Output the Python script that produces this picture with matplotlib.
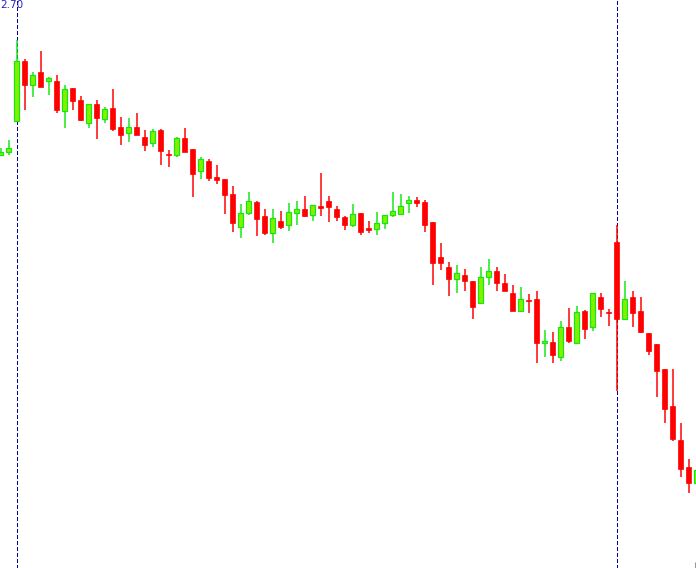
import matplotlib
matplotlib.use("Agg")
import matplotlib.pyplot as plt
from matplotlib.patches import Rectangle

# OHLC values
opens = [2.565, 2.568, 2.599, 2.659, 2.635, 2.648, 2.639, 2.639, 2.609, 2.632,
         2.620, 2.597, 2.616, 2.601, 2.612, 2.593, 2.587, 2.593, 2.583, 2.577,
         2.590, 2.566, 2.565, 2.582, 2.571, 2.549, 2.559, 2.543, 2.541, 2.526,
         2.493, 2.507, 2.518, 2.504, 2.487, 2.499, 2.495, 2.507, 2.511, 2.505,
         2.514, 2.519, 2.511, 2.503, 2.495, 2.507, 2.491, 2.491, 2.497, 2.505,
         2.506, 2.517, 2.520, 2.518, 2.498, 2.463, 2.453, 2.441, 2.445, 2.439,
         2.417, 2.443, 2.449, 2.437, 2.427, 2.409, 2.420, 2.421, 2.377, 2.378,
         2.363, 2.393, 2.377, 2.409, 2.393, 2.423, 2.408, 2.478, 2.401, 2.423,
         2.409, 2.387, 2.376, 2.351, 2.314, 2.280, 2.253, 2.237]
highs = [2.572, 2.580, 2.680, 2.661, 2.648, 2.669, 2.643, 2.645, 2.635, 2.632,
         2.624, 2.616, 2.620, 2.613, 2.631, 2.603, 2.602, 2.607, 2.590, 2.591,
         2.591, 2.570, 2.583, 2.592, 2.571, 2.563, 2.561, 2.555, 2.541, 2.534,
         2.516, 2.528, 2.519, 2.511, 2.511, 2.509, 2.517, 2.519, 2.524, 2.515,
         2.547, 2.524, 2.514, 2.504, 2.516, 2.507, 2.499, 2.508, 2.505, 2.528,
         2.526, 2.524, 2.523, 2.520, 2.498, 2.477, 2.458, 2.455, 2.451, 2.439,
         2.453, 2.461, 2.453, 2.446, 2.435, 2.433, 2.426, 2.429, 2.390, 2.388,
         2.399, 2.412, 2.414, 2.410, 2.427, 2.427, 2.411, 2.495, 2.439, 2.429,
         2.423, 2.387, 2.376, 2.351, 2.351, 2.297, 2.261, 2.250]
lows = [2.564, 2.565, 2.599, 2.610, 2.623, 2.633, 2.625, 2.607, 2.592, 2.610,
        2.599, 2.592, 2.581, 2.597, 2.589, 2.575, 2.578, 2.585, 2.569, 2.573,
        2.555, 2.553, 2.563, 2.568, 2.523, 2.541, 2.539, 2.536, 2.506, 2.488,
        2.482, 2.505, 2.484, 2.485, 2.477, 2.491, 2.489, 2.495, 2.503, 2.499,
        2.504, 2.498, 2.499, 2.490, 2.493, 2.485, 2.487, 2.485, 2.491, 2.503,
        2.506, 2.507, 2.513, 2.488, 2.435, 2.450, 2.424, 2.427, 2.429, 2.401,
        2.417, 2.435, 2.429, 2.429, 2.409, 2.409, 2.407, 2.357, 2.363, 2.357,
        2.359, 2.377, 2.377, 2.381, 2.389, 2.403, 2.394, 2.329, 2.401, 2.393,
        2.387, 2.365, 2.323, 2.297, 2.279, 2.243, 2.227, 2.237]
closes = [2.568, 2.572, 2.659, 2.635, 2.645, 2.633, 2.642, 2.610, 2.631, 2.619,
          2.600, 2.616, 2.602, 2.611, 2.591, 2.585, 2.593, 2.585, 2.575, 2.589,
          2.569, 2.565, 2.582, 2.568, 2.546, 2.561, 2.542, 2.540, 2.525, 2.497,
          2.507, 2.519, 2.501, 2.487, 2.502, 2.493, 2.508, 2.511, 2.504, 2.515,
          2.512, 2.513, 2.503, 2.495, 2.506, 2.488, 2.490, 2.497, 2.505, 2.509,
          2.514, 2.520, 2.517, 2.495, 2.457, 2.457, 2.441, 2.447, 2.439, 2.413,
          2.443, 2.449, 2.437, 2.429, 2.409, 2.421, 2.419, 2.377, 2.379, 2.365,
          2.393, 2.379, 2.408, 2.391, 2.427, 2.411, 2.407, 2.401, 2.421, 2.407,
          2.388, 2.369, 2.349, 2.311, 2.281, 2.251, 2.237, 2.250]
separators = [2, 77]   # bar indices of the dashed period separators
top_label = "2.70"

UP_FILL = "#84f000"
UP_EDGE = "#14e614"
DOWN = "#ff0000"
SEP = "#0000a0"

fig = plt.figure(figsize=(6.96, 5.68), dpi=100)
ax = fig.add_axes([0, 0, 1, 1])
ax.set_facecolor("white")

px = 1.0 / 8.0            # one pixel in bar units
body_w = 5 * px
wick_lw = 1.5 * 72 / 100

for sx in separators:
    ax.axvline(sx, color=SEP, lw=1.3 * 72 / 100, ls=(0, (3.0, 2.0)),
               antialiased=False, zorder=1)

for i, (o, h, l, c) in enumerate(zip(opens, highs, lows, closes)):
    up = c >= o
    wick_col = UP_EDGE if up else DOWN
    ax.plot([i, i], [l, h], color=wick_col, lw=wick_lw, solid_capstyle="butt", zorder=2)
    lo, hi = min(o, c), max(o, c)
    hgt = max(hi - lo, 0.0015)
    if up:
        rect = Rectangle((i - body_w / 2, lo), body_w, hgt, facecolor=UP_FILL,
                         edgecolor=UP_EDGE, lw=1.2 * 72 / 100, zorder=3)
    else:
        rect = Rectangle((i - body_w / 2, lo), body_w, hgt, facecolor=DOWN,
                         edgecolor=DOWN, lw=0.5, zorder=3)
    ax.add_patch(rect)

ax.set_xlim(-0.5 * px, (696 - 0.5) * px)
ax.set_ylim(2.152, 2.720)

for s in ax.spines.values():
    s.set_visible(False)
ax.set_yticks([])
ax.set_xticks([695 * px - 0.5 * px])
ax.set_xticklabels([])
ax.tick_params(axis="x", direction="in", length=4.5, width=0.8, color="#999999")

ax.text(0.5 / 696, 1 - 0.5 / 568, top_label, transform=ax.transAxes,
        ha="left", va="top", fontsize=7.5, color="#2424b8", family="DejaVu Sans")

fig.savefig("out.png", dpi=100)
